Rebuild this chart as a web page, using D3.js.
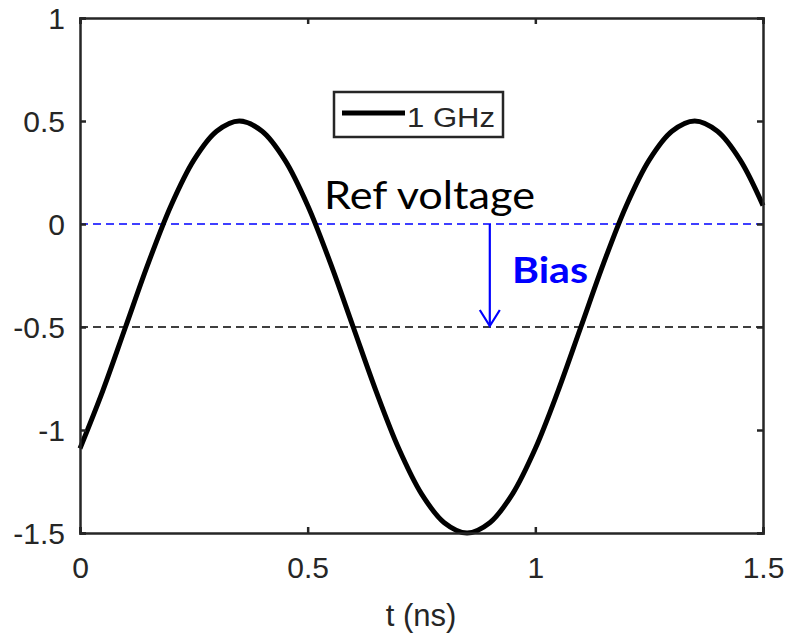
<!DOCTYPE html>
<html><head><meta charset="utf-8">
<script src="https://cdn.jsdelivr.net/npm/d3@7"></script>
<style>body{margin:0;background:#fff}</style>
</head><body>
<svg id="c" width="787" height="634"></svg>
<script>
const timeNs = [0,0.05,0.1,0.15,0.2,0.25,0.3,0.35,0.4,0.45,0.5,0.55,0.6,0.65,0.7,0.75,0.8,0.85,0.9,0.95,1.0,1.05,1.1,1.15,1.2,1.25,1.3,1.35,1.4,1.45,1.5];
const voltage = [-1.09,-0.81,-0.5,-0.19,0.09,0.31,0.45,0.5,0.45,0.31,0.09,-0.19,-0.5,-0.81,-1.09,-1.31,-1.45,-1.5,-1.45,-1.31,-1.09,-0.81,-0.5,-0.19,0.09,0.31,0.45,0.5,0.45,0.31,0.09];
const xTicks = [0,0.5,1,1.5];
const yTicks = [-1.5,-1,-0.5,0,0.5,1];
const refLevel = 0;
const biasLevel = -0.5;
const arrowT = 0.9;
const legendLabel = "1 GHz";

const svg = d3.select("#c");
const L=80,R=763,T=18,B=533;
const x = d3.scaleLinear().domain([0,1.5]).range([L,R]);
const y = d3.scaleLinear().domain([-1.5,1]).range([B,T]);
const axisCol="#262626";
const fmt = d=>String(d);

// dashed lines
svg.append("line").attr("x1",x(0)).attr("x2",x(1.5)).attr("y1",y(refLevel)).attr("y2",y(refLevel))
  .attr("stroke","#0000ff").attr("stroke-width",1.6).attr("stroke-dasharray","8,5");
svg.append("line").attr("x1",x(0)).attr("x2",x(1.5)).attr("y1",y(biasLevel)).attr("y2",y(biasLevel))
  .attr("stroke","#000").attr("stroke-width",1.6).attr("stroke-dasharray","8,5");

// curve
const line = d3.line().x((d,i)=>x(timeNs[i])).y(d=>y(d)).curve(d3.curveCatmullRom.alpha(0.5));
svg.append("path").datum(voltage).attr("d",line).attr("fill","none").attr("stroke","#000").attr("stroke-width",5);

// axes
const fontTick = "Liberation Sans, Arial, sans-serif";
const gx = svg.append("g").attr("transform",`translate(0,${B})`)
  .call(d3.axisBottom(x).tickValues(xTicks).tickSize(-6).tickFormat(fmt));
const gy = svg.append("g").attr("transform",`translate(${L},0)`)
  .call(d3.axisLeft(y).tickValues(yTicks).tickSize(-6).tickFormat(fmt));
const gx2 = svg.append("g").attr("transform",`translate(0,${T})`)
  .call(d3.axisTop(x).tickValues(xTicks).tickSize(-6).tickFormat(""));
const gy2 = svg.append("g").attr("transform",`translate(${R},0)`)
  .call(d3.axisRight(y).tickValues(yTicks).tickSize(-6).tickFormat(""));
[gx,gy,gx2,gy2].forEach(g=>{
  g.select(".domain").attr("stroke",axisCol).attr("stroke-width",2.5);
  g.selectAll(".tick line").attr("stroke",axisCol).attr("stroke-width",2.5);
  g.selectAll("text").attr("fill",axisCol).style("font-family",fontTick).style("font-size","30px");
});
gx.selectAll("text").attr("y",45).attr("dy",0);
gy.selectAll("text").attr("x",-15).attr("dy","0.36em");

// x label
svg.append("text").attr("x",421).attr("y",626).attr("text-anchor","middle")
  .style("font-family",fontTick).style("font-size","31px").attr("fill",axisCol).text("t (ns)");

// annotations
svg.append("text").attr("x",324).attr("y",209)
  .attr("textLength",211).attr("lengthAdjust","spacingAndGlyphs")
  .style("font-family","Lato, 'Open Sans', sans-serif").style("font-size","38px").attr("fill","#000").text("Ref voltage");
const ax = x(arrowT);
svg.append("line").attr("x1",ax).attr("x2",ax).attr("y1",y(refLevel)).attr("y2",y(biasLevel)-1)
  .attr("stroke","#0000ff").attr("stroke-width",2.2);
svg.append("path").attr("d",`M${ax-10},${y(biasLevel)-17} L${ax},${y(biasLevel)-1} L${ax+10},${y(biasLevel)-17}`)
  .attr("fill","none").attr("stroke","#0000ff").attr("stroke-width",2.2);
svg.append("text").attr("x",512).attr("y",283)
  .attr("textLength",76).attr("lengthAdjust","spacingAndGlyphs")
  .style("font-family","Lato, 'Open Sans', sans-serif").style("font-size","36px").style("font-weight","bold")
  .attr("fill","#0000ff").text("Bias");

// legend
const lg = svg.append("g");
lg.append("rect").attr("x",334).attr("y",92).attr("width",169).attr("height",45)
  .attr("fill","#fff").attr("stroke",axisCol).attr("stroke-width",2.5);
lg.append("line").attr("x1",342).attr("x2",405).attr("y1",113).attr("y2",113).attr("stroke","#000").attr("stroke-width",5);
lg.append("text").attr("x",407).attr("y",127)
  .attr("textLength",88).attr("lengthAdjust","spacingAndGlyphs")
  .style("font-family",fontTick).style("font-size","27px")
  .attr("fill",axisCol).text(legendLabel);
</script>
</body></html>
